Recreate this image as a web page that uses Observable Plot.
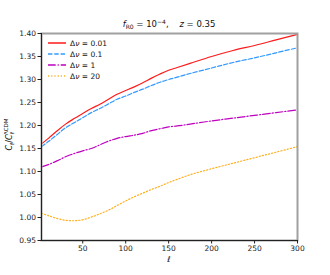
<!DOCTYPE html>
<html><head><meta charset="utf-8">
<script src="https://cdn.jsdelivr.net/npm/d3@7"></script>
<script src="https://cdn.jsdelivr.net/npm/@observablehq/plot@0.6"></script>
<style>
body{margin:0;background:#fff}
svg{font-family:"DejaVu Sans",sans-serif}
</style>
</head><body><div id="chart"></div>
<script>
const ell = [2,10,20,30,40,50,60,70,80,90,100,110,120,130,140,150,160,175,200,225,250,275,300];
const seriesLabels = ["0.01","0.1","1","20"];
const dnu001 = [1.160,1.172,1.188,1.203,1.215,1.226,1.237,1.246,1.257,1.268,1.276,1.284,1.293,1.303,1.312,1.320,1.326,1.335,1.350,1.363,1.374,1.386,1.398];
const dnu01  = [1.154,1.165,1.180,1.195,1.206,1.217,1.228,1.237,1.247,1.257,1.264,1.272,1.279,1.287,1.294,1.300,1.305,1.313,1.325,1.337,1.347,1.358,1.369];
const dnu1   = [1.110,1.115,1.123,1.132,1.139,1.145,1.150,1.158,1.166,1.172,1.176,1.179,1.183,1.189,1.193,1.197,1.199,1.203,1.210,1.216,1.222,1.228,1.234];
const dnu20  = [1.009,1.004,0.998,0.994,0.993,0.995,1.001,1.008,1.016,1.026,1.036,1.045,1.053,1.061,1.068,1.076,1.083,1.093,1.106,1.118,1.130,1.142,1.154];
const xTicks = [50,100,150,200,250,300];
const yTicks = [0.95,1.00,1.05,1.10,1.15,1.20,1.25,1.30,1.35,1.40];

const seriesValues = [dnu001, dnu01, dnu1, dnu20];
const colors = ["#ff1a1a","#3399ff","#bf00bf","#ffb020"];
const dashes = [null,"4.4,1.9","7.7,1.9,1.2,1.9","1.2,2"];

const series = seriesLabels.map((lab,i)=>({
  label: lab,
  color: colors[i],
  dash: dashes[i],
  data: ell.map((l,j)=>({ell:l, value:seriesValues[i][j]}))
}));

const W=330,H=275,mL=41,mR=33,mT=33,mB=35;
const plot = Plot.plot({
  width:W,height:H,marginLeft:mL,marginRight:mR,marginTop:mT,marginBottom:mB,
  style:{fontFamily:"DejaVu Sans",fontSize:"7.5px",color:"#222",background:"#fff"},
  x:{domain:[2,300],ticks:xTicks,label:null,tickSize:3.5,tickPadding:1.5},
  y:{domain:[0.95,1.40],ticks:yTicks,label:null,tickSize:3.5,tickPadding:2,tickFormat:d3.format(".2f")},
  marks:[
    ...series.map(s=>Plot.line(s.data,{x:"ell",y:"value",stroke:s.color,strokeWidth:1.2,strokeDasharray:s.dash,curve:"catmull-rom"})),
    Plot.frame({stroke:"#a0a0a0",strokeWidth:2}),
    Plot.ruleX([2],{stroke:"#222",strokeWidth:1}),
    Plot.ruleY([0.95],{stroke:"#222",strokeWidth:1}),
    Plot.axisX({ticks:xTicks,tickSize:3.5,tickPadding:1.5,label:null}),
    Plot.axisY({ticks:yTicks,tickSize:3.5,tickPadding:2,label:null,tickFormat:d3.format(".2f")})
  ]
});
document.getElementById("chart").appendChild(plot);
const svg = d3.select(plot);
const cx = mL + (W-mL-mR)/2;

// title
const t = svg.append("text").attr("x",cx).attr("y",mT-6).attr("text-anchor","middle")
  .attr("font-size","8.5px").attr("fill","#111");
t.append("tspan").attr("font-style","italic").text("f");
t.append("tspan").attr("font-size","6px").attr("dy","1.5").text("R0");
t.append("tspan").attr("dy","-1.5").text(" = 10");
t.append("tspan").attr("font-size","6px").attr("dy","-3.5").text("−4");
t.append("tspan").attr("dy","3.5").text(",    ");
t.append("tspan").attr("font-style","italic").text("z");
t.append("tspan").text(" = 0.35");

// x label
svg.append("text").attr("x",cx).attr("y",H-13).attr("text-anchor","middle")
  .attr("font-size","8px").attr("font-style","italic").attr("fill","#111").text("ℓ");

// y label
const yl = svg.append("text").attr("transform",`translate(12,${(mT+H-mB)/2-2}) rotate(-90)`)
  .attr("text-anchor","middle").attr("font-size","8px").attr("fill","#111");
yl.append("tspan").attr("font-style","italic").text("C");
yl.append("tspan").attr("font-size","5.5px").attr("dy","1.5").attr("font-style","italic").text("ℓ");
yl.append("tspan").attr("dy","-1.5").text("/");
yl.append("tspan").attr("font-style","italic").text("C");
yl.append("tspan").attr("font-size","5.5px").attr("dy","1.5").attr("font-style","italic").text("ℓ");
yl.append("tspan").attr("font-size","5.5px").attr("dy","-5.5").attr("dx","-3").text("ΛCDM");

// legend
const lg = svg.append("g");
series.forEach((s,i)=>{
  const y = mT + 10 + i*11;
  lg.append("line").attr("x1",mL+7).attr("x2",mL+25).attr("y1",y).attr("y2",y)
    .attr("stroke",s.color).attr("stroke-width",1.5).attr("stroke-dasharray",s.dash);
  const tx = lg.append("text").attr("x",mL+29).attr("y",y+2.8).attr("text-anchor","start")
    .attr("font-size","7.5px").attr("fill","#111");
  tx.append("tspan").text("Δ");
  tx.append("tspan").attr("font-style","italic").text("ν");
  tx.append("tspan").text(" = "+s.label);
});
</script></body></html>
